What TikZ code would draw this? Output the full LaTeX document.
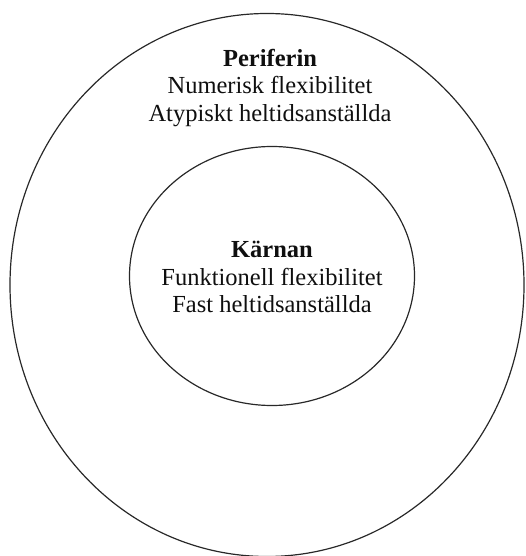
\documentclass[tikz,border=0pt]{standalone}
\usepackage{fontspec}
\setmainfont{Liberation Serif}
\usetikzlibrary{shapes.geometric, positioning}
\definecolor{ringColor}{RGB}{40, 40, 40}
\definecolor{labelColor}{RGB}{15, 15, 15}
\tikzset{
    ring_node/.style={
        ellipse,
        draw=ringColor,
        line width=1.2pt,
        inner sep=0pt
    },
    zone_text/.style={
        align=center,
        text=labelColor,
        font=\fontsize{24.5}{27.8}\selectfont,
        inner sep=0pt
    }
}

\begin{document}
\begin{tikzpicture}[x=1pt, y=-1pt]
        \useasboundingbox (0,0) rectangle (525,556);

        \node[ring_node, minimum width=514pt, minimum height=543pt] (periferi) at (267,285) {};
        \node[ring_node, minimum width=285pt, minimum height=259pt] (karna) at (272,276) {};

        \node[zone_text] (periferText) at (270,88)
            {\textbf{Periferin}\\ Numerisk flexibilitet\\ Atypiskt heltidsanställda};
        \node[zone_text] (karnText) at (272,277)
            {\textbf{Kärnan}\\ Funktionell flexibilitet\\ Fast heltidsanställda};
    \end{tikzpicture}
\end{document}
